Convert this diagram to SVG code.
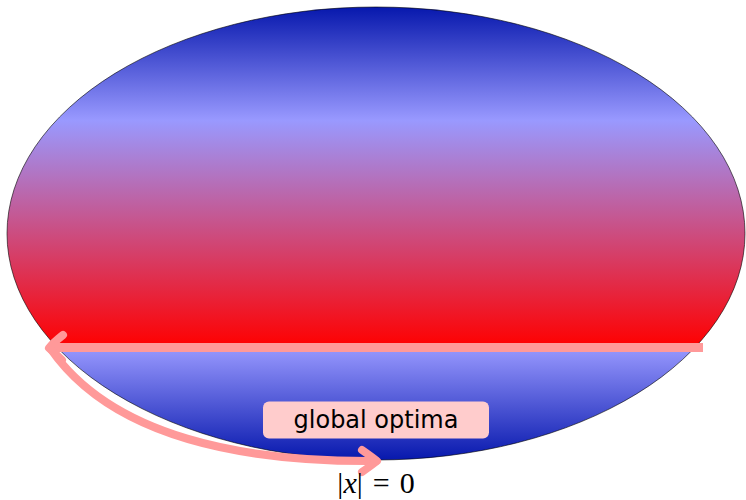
<svg xmlns="http://www.w3.org/2000/svg" width="746" height="500" viewBox="0 0 746 500">
  <defs>
    <linearGradient id="gUp" gradientUnits="userSpaceOnUse" x1="0" y1="7" x2="0" y2="347">
      <stop offset="0" stop-color="#0718ad"/>
      <stop offset="0.333" stop-color="#9999ff"/>
      <stop offset="1" stop-color="#ff0000"/>
    </linearGradient>
    <linearGradient id="gLow" gradientUnits="userSpaceOnUse" x1="0" y1="347" x2="0" y2="460">
      <stop offset="0" stop-color="#9999ff"/>
      <stop offset="1" stop-color="#0718ad"/>
    </linearGradient>
    <clipPath id="cUp"><rect x="0" y="0" width="746" height="347"/></clipPath>
    <clipPath id="cLow"><rect x="0" y="347" width="746" height="153"/></clipPath>
  </defs>
  <style>
    .pink { fill: none; stroke: #ff9999; stroke-width: 8; stroke-linecap: round; stroke-linejoin: round; }
    .lbl { font-family: "DejaVu Sans", sans-serif; font-size: 24px; fill: #000; }
    .math { font-family: "Liberation Serif", serif; font-size: 30px; fill: #000; }
  </style>
  <g id="ellipse">
    <ellipse cx="376" cy="233.5" rx="369" ry="226.5" fill="url(#gUp)" clip-path="url(#cUp)"/>
    <ellipse cx="376" cy="233.5" rx="369" ry="226.5" fill="url(#gLow)" clip-path="url(#cLow)"/>
    <ellipse cx="376" cy="233.5" rx="369" ry="226.5" fill="none" stroke="#000" stroke-width="0.6"/>
  </g>
  <g id="connectors">
    <line x1="50" y1="347.5" x2="703" y2="347.5" stroke="#ff9999" stroke-width="9"/>
    <path class="pink" d="M50,348 C112,438 245,462 376,461"/>
    <path class="pink" d="M63,335 Q54,342 49,348 Q56,354 62,360"/>
    <path class="pink" d="M362,450 Q372,457 377,461 Q372,465 362,472"/>
  </g>
  <g id="label">
    <rect x="263" y="401.5" width="226" height="37" rx="6" fill="#ffcccc"/>
    <text class="lbl" x="376" y="428" text-anchor="middle">global optima</text>
  </g>
  <g id="formula">
    <text class="math" x="376" y="493" text-anchor="middle">|<tspan font-style="italic">x</tspan>|<tspan dx="10">=</tspan><tspan dx="10">0</tspan></text>
  </g>
</svg>
